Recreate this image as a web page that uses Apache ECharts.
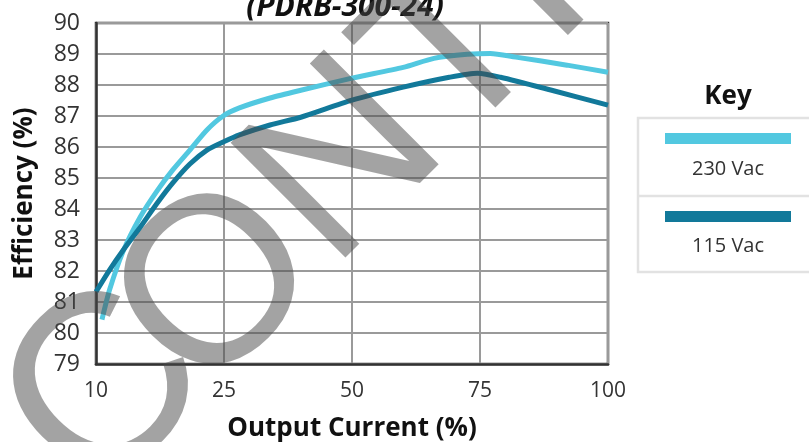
<!DOCTYPE html>
<html>
<head>
<meta charset="utf-8">
<script src="https://cdn.jsdelivr.net/npm/echarts@6/dist/echarts.min.js"></script>
<style>
html,body{margin:0;padding:0;background:#fff;}
#chart{width:809px;height:442px;}
</style>
</head>
<body>
<div id="chart"></div>
<script>
// Tick labels (evenly spaced on the x axis)
const xTicks = [10, 25, 50, 75, 100];
const yMin = 79, yMax = 90;

// Series: [output current %, efficiency %]
const vac230 = [[10.7,80.43],[11.6,81.4],[13.2,82.65],[15.2,83.75],[17.2,84.6],[19,85.26],[21,85.9],[23,86.55],[24.9,87.0],[28,87.26],[34,87.58],[40,87.83],[50,88.22],[60,88.57],[66,88.86],[72.5,88.99],[77,89.02],[82,88.9],[92,88.64],[100,88.41]];
const vac115 = [[10,81.33],[11.6,82.04],[13.2,82.68],[15.2,83.42],[17.2,84.2],[19,84.84],[21,85.45],[23,85.9],[24.9,86.16],[28,86.39],[34,86.71],[40,86.96],[50,87.51],[60,87.93],[69,88.25],[74.5,88.38],[79,88.25],[89,87.83],[100,87.35]];

const seriesNames = ['230 Vac', '115 Vac'];
const colors = ['#52c8e0', '#12799a'];

// piecewise scale: current % -> evenly spaced tick position
function toPos(c){
  for (let i = 0; i < xTicks.length - 1; i++){
    if (c <= xTicks[i+1]) return i + (c - xTicks[i]) / (xTicks[i+1] - xTicks[i]);
  }
  return xTicks.length - 1;
}
const conv = arr => arr.map(d => [toPos(d[0]), d[1]]);

const chart = echarts.init(document.getElementById('chart'));
const font = '"Open Sans", "Noto Sans", sans-serif';
const wmFill = 'rgba(72,72,72,0.5)';

chart.setOption({
  animation: false,
  grid: {left: 96, right: 201, top: 23, bottom: 78, show: true, borderColor: '#333', borderWidth: 2.5, containLabel: false, outerBoundsMode: 'none'},
  xAxis: {
    type: 'value', min: 0, max: xTicks.length - 1, interval: 1,
    name: 'Output Current (%)', nameLocation: 'middle', nameGap: 52,
    nameTextStyle: {fontFamily: font, fontWeight: 'bold', fontSize: 26, color: '#111'},
    axisLine: {show: true, lineStyle: {color: '#333', width: 2.5}},
    axisTick: {show: false},
    axisLabel: {formatter: v => xTicks[v], fontFamily: font, fontSize: 21, color: '#333', margin: 17},
    splitLine: {show: true, lineStyle: {color: '#9a9a9a', width: 2}}
  },
  yAxis: {
    type: 'value', min: yMin, max: yMax, interval: 1,
    name: 'Efficiency (%)', nameLocation: 'middle', nameGap: 58,
    nameTextStyle: {fontFamily: font, fontWeight: 'bold', fontSize: 26, color: '#111'},
    axisLine: {show: true, lineStyle: {color: '#333', width: 2.5}},
    axisTick: {show: false},
    axisLabel: {fontFamily: font, fontSize: 23, color: '#333', margin: 16},
    splitLine: {show: true, lineStyle: {color: '#9a9a9a', width: 2}}
  },
  series: [
    {name: seriesNames[0], type: 'line', data: conv(vac230), smooth: 0.25, showSymbol: false, lineStyle: {color: colors[0], width: 5}, z: 3},
    {name: seriesNames[1], type: 'line', data: conv(vac115), smooth: 0.25, showSymbol: false, lineStyle: {color: colors[1], width: 5}, z: 4}
  ],
  graphic: [
    {type: 'text', x: 345, y: 7, z: 10, style: {text: '(PDRB-300-24)', font: 'italic bold 30px ' + font, fill: '#111', textAlign: 'center', textVerticalAlign: 'middle'}},
    {type: 'text', x: 728, y: 97, z: 10, style: {text: 'Key', font: 'bold 26px ' + font, fill: '#111', textAlign: 'center', textVerticalAlign: 'middle'}},
    {type: 'rect', z: 10, shape: {x: 638, y: 118, width: 190, height: 154}, style: {fill: 'none', stroke: '#e2e2e2', lineWidth: 2.5}},
    {type: 'line', z: 10, shape: {x1: 638, y1: 196, x2: 809, y2: 196}, style: {stroke: '#e2e2e2', lineWidth: 2.5}},
    {type: 'rect', z: 10, shape: {x: 665, y: 133, width: 126, height: 11}, style: {fill: colors[0]}},
    {type: 'text', x: 728, y: 169, z: 10, style: {text: seriesNames[0], font: '20px ' + font, fill: '#333', textAlign: 'center', textVerticalAlign: 'middle'}},
    {type: 'rect', z: 10, shape: {x: 665, y: 211, width: 126, height: 11}, style: {fill: colors[1]}},
    {type: 'text', x: 728, y: 246, z: 10, style: {text: seriesNames[1], font: '20px ' + font, fill: '#333', textAlign: 'center', textVerticalAlign: 'middle'}},
    // watermark
    {type: 'text', x: 46, y: 458, rotation: Math.PI / 4, z: 100, silent: true,
     style: {text: 'C', font: '246px "Liberation Sans", Arial, sans-serif', fill: wmFill, textAlign: 'left', textVerticalAlign: 'middle'}},
    {type: 'text', x: 156, y: 355, rotation: Math.PI / 4, z: 100, silent: true,
     style: {text: 'ONTROLLED', font: '236px "Liberation Sans", Arial, sans-serif', fill: wmFill, textAlign: 'left', textVerticalAlign: 'middle'}}
  ]
});
</script>
</body>
</html>
